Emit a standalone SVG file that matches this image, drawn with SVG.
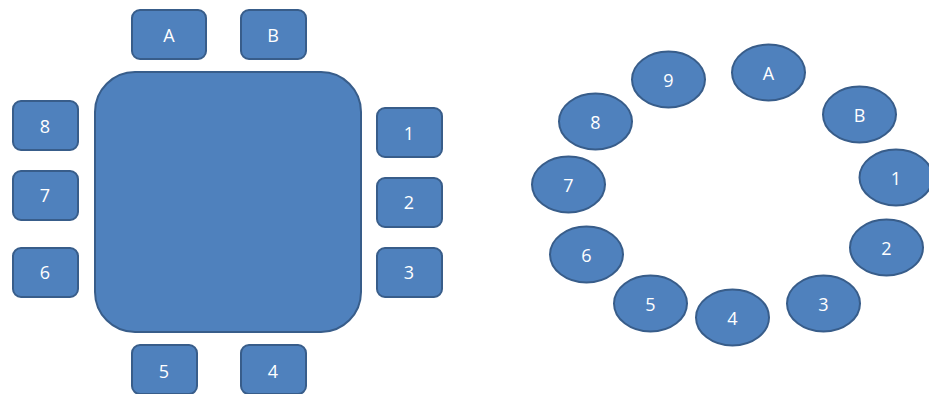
<svg xmlns="http://www.w3.org/2000/svg" width="929" height="394" viewBox="0 0 929 394">
<style>
.s{fill:#4f81bd;stroke:#385d8a;stroke-width:2}
.t{fill:#ffffff;font-family:"Open Sans","Liberation Sans",sans-serif;font-size:18px;text-anchor:middle;dominant-baseline:central}
</style>
<rect width="929" height="394" fill="#ffffff"/>
<g id="table"><rect class="s" x="95" y="72" width="266" height="260" rx="40" ry="40"/></g>
<g id="sqA"><rect class="s" x="132" y="10" width="74" height="49" rx="8"/><text class="t" x="169" y="35">A</text></g>
<g id="sqB"><rect class="s" x="241" y="10" width="65" height="49" rx="8"/><text class="t" x="273" y="35">B</text></g>
<g id="sq8"><rect class="s" x="13" y="101" width="65" height="49" rx="8"/><text class="t" x="45" y="126">8</text></g>
<g id="sq7"><rect class="s" x="13" y="171" width="65" height="49" rx="8"/><text class="t" x="45" y="195">7</text></g>
<g id="sq6"><rect class="s" x="13" y="248" width="65" height="49" rx="8"/><text class="t" x="45" y="272">6</text></g>
<g id="sq1"><rect class="s" x="377" y="108" width="65" height="49" rx="8"/><text class="t" x="409" y="133">1</text></g>
<g id="sq2"><rect class="s" x="377" y="178" width="65" height="49" rx="8"/><text class="t" x="409" y="202">2</text></g>
<g id="sq3"><rect class="s" x="377" y="248" width="65" height="49" rx="8"/><text class="t" x="409" y="272">3</text></g>
<g id="sq5"><rect class="s" x="132" y="345" width="65" height="49" rx="8"/><text class="t" x="164" y="371">5</text></g>
<g id="sq4"><rect class="s" x="241" y="345" width="65" height="49" rx="8"/><text class="t" x="273" y="371">4</text></g>
<g id="c9"><ellipse class="s" cx="668.5" cy="79.5" rx="36.5" ry="28"/><text class="t" x="668.5" y="80">9</text></g>
<g id="cA"><ellipse class="s" cx="768.5" cy="72.5" rx="36.5" ry="28"/><text class="t" x="768.5" y="73">A</text></g>
<g id="cB"><ellipse class="s" cx="859.5" cy="114.5" rx="36.5" ry="28"/><text class="t" x="859.5" y="115">B</text></g>
<g id="c8"><ellipse class="s" cx="595.5" cy="121.5" rx="36.5" ry="28"/><text class="t" x="595.5" y="122">8</text></g>
<g id="c7"><ellipse class="s" cx="568.5" cy="184.5" rx="36.5" ry="28"/><text class="t" x="568.5" y="185">7</text></g>
<g id="c1"><ellipse class="s" cx="896" cy="177.5" rx="36.5" ry="28"/><text class="t" x="896" y="178">1</text></g>
<g id="c6"><ellipse class="s" cx="586.5" cy="254.5" rx="36.5" ry="28"/><text class="t" x="586.5" y="255">6</text></g>
<g id="c2"><ellipse class="s" cx="886.5" cy="247.5" rx="36.5" ry="28"/><text class="t" x="886.5" y="248">2</text></g>
<g id="c5"><ellipse class="s" cx="650.5" cy="303.5" rx="36.5" ry="28"/><text class="t" x="650.5" y="304">5</text></g>
<g id="c4"><ellipse class="s" cx="732.5" cy="317.5" rx="36.5" ry="28"/><text class="t" x="732.5" y="318">4</text></g>
<g id="c3"><ellipse class="s" cx="823.5" cy="303.5" rx="36.5" ry="28"/><text class="t" x="823.5" y="304">3</text></g>
<g id="connectors"></g>
</svg>
